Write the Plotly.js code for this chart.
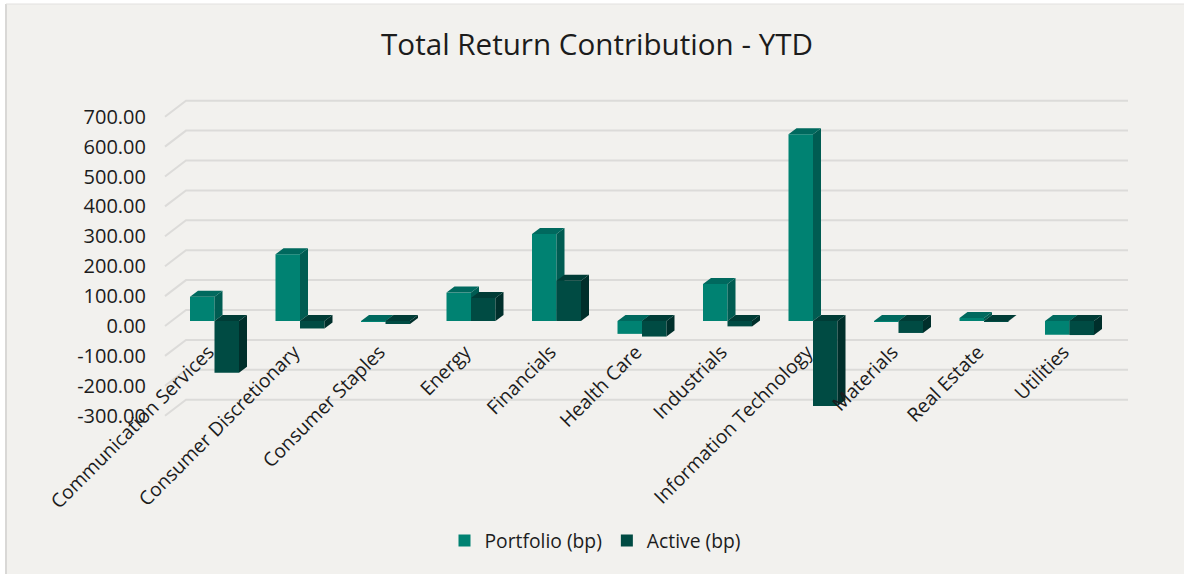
<!DOCTYPE html>
<html>
<head>
<meta charset="utf-8">
<script src="https://cdn.plot.ly/plotly-3.0.1.min.js"></script>
<style>html,body{margin:0;padding:0;background:#fff;overflow:hidden}#chart{width:1184px;height:574px}</style>
</head>
<body>
<div id="chart"></div>
<script>
var categories = ["Communication Services","Consumer Discretionary","Consumer Staples","Energy","Financials","Health Care","Industrials","Information Technology","Materials","Real Estate","Utilities"];
var portfolio = [81,223,-3,95,291,-43,124,625,-1,10,-46];
var active = [-173,-25,-10,77,135,-52,-18,-284,-40,-1,-47];
var yTicks = [700,600,500,400,300,200,100,0,-100,-200,-300];

var FONT = '"Open Sans", sans-serif';
var W = 1184, H = 574;
var L = 150, R = 1140, T = 90, B = 425;
var pxX = 85.5, pxY = 0.299, x0Px = 214.5, zeroPx = 321;
var xRange = [(L - x0Px) / pxX, (R - x0Px) / pxX];
var yRange = [(zeroPx - B) / pxY, (zeroPx - T) / pxY];
var barW = 24.5 / pxX;
var dx = 8 / pxX, dy = 6 / pxY;
function paperX(px) { return (px - L) / (R - L); }
function paperY(px) { return (B - px) / (B - T); }

function faces(values, start) {
  var sx = [], sy = [], tx = [], ty = [];
  values.forEach(function (v, i) {
    var a = i + start, b = a + barW, hi = Math.max(v, 0), lo = Math.min(v, 0);
    sx.push(b, b + dx, b + dx, b, b, null);
    sy.push(hi, hi + dy, lo + dy, lo, hi, null);
    tx.push(a, a + dx, b + dx, b, a, null);
    ty.push(hi, hi + dy, hi + dy, hi, hi, null);
  });
  return {sx: sx, sy: sy, tx: tx, ty: ty};
}
function poly(x, y, color, xa, ya) {
  return {type: 'scatter', mode: 'lines', x: x, y: y, fill: 'toself', fillcolor: color,
    line: {width: 0, color: color}, hoverinfo: 'skip', showlegend: false, xaxis: xa, yaxis: ya};
}

// Back wall grid: short diagonal on the side wall, then the long line
var gx = [], gy = [];
var wallL = (165 - x0Px) / pxX, wallB = (186 - x0Px) / pxX, wallR = (1128 - x0Px) / pxX;
var wallFront = -5 / pxY, wallBack = 11 / pxY;
yTicks.forEach(function (v) {
  gx.push(wallL, wallB, wallR, null);
  gy.push(v + wallFront, v + wallBack, v + wallBack, null);
});

var pf = faces(portfolio, -barW), af = faces(active, 0);
var idx = categories.map(function (c, i) { return i; });
var traces = [
  {type: 'scatter', mode: 'lines', x: gx, y: gy, line: {color: '#dcdbd9', width: 2},
   hoverinfo: 'skip', showlegend: false, xaxis: 'x', yaxis: 'y'},
  poly(pf.sx, pf.sy, '#005c52', 'x2', 'y2'),
  poly(pf.tx, pf.ty, '#00695e', 'x2', 'y2'),
  {type: 'bar', name: 'Portfolio (bp)', x: idx, y: portfolio,
   width: barW, offset: -barW, marker: {color: '#008272', line: {width: 0}}, xaxis: 'x2', yaxis: 'y2'},
  poly(af.sx, af.sy, '#002f2b', 'x3', 'y3'),
  poly(af.tx, af.ty, '#003c36', 'x3', 'y3'),
  {type: 'bar', name: 'Active (bp)', x: idx, y: active,
   width: barW, offset: 0, marker: {color: '#004b43', line: {width: 0}}, xaxis: 'x3', yaxis: 'y3'}
];

function hiddenX() { return {range: xRange, overlaying: 'x', visible: false, fixedrange: true}; }
function hiddenY(xa) { return {range: yRange, overlaying: 'y', visible: false, fixedrange: true, anchor: xa}; }

var layout = {
  width: W, height: H,
  paper_bgcolor: '#ffffff', plot_bgcolor: 'rgba(0,0,0,0)',
  margin: {l: L, r: W - R, t: T, b: H - B, pad: 0},
  font: {family: FONT, color: '#1c1c1c'},
  title: {text: 'Total Return Contribution - YTD', font: {family: FONT, size: 29.6, color: '#1c1c1c'},
          x: 597 / W, xanchor: 'center', y: 1 - 45 / H, yanchor: 'middle'},
  showlegend: true,
  legend: {orientation: 'h', x: paperX(595), xanchor: 'center', y: paperY(541), yanchor: 'middle',
           font: {family: FONT, size: 19.3, color: '#1c1c1c'}, bgcolor: 'rgba(0,0,0,0)', traceorder: 'normal'},
  xaxis: {range: xRange, tickmode: 'array', tickvals: idx, ticktext: categories,
          tickangle: -45, tickfont: {family: FONT, size: 19.3, color: '#1c1c1c'}, showgrid: false, zeroline: false, showline: false,
          ticks: '', anchor: 'free', position: paperY(336), ticklabelshift: -6, fixedrange: true, automargin: false},
  yaxis: {range: yRange, tickmode: 'array', tickvals: yTicks, ticktext: yTicks.map(function (v) { return v.toFixed(2); }),
          tickfont: {family: FONT, size: 20, color: '#1c1c1c'}, showgrid: false, zeroline: false, showline: false,
          ticks: '', ticklabelshift: 5, ticklabelstandoff: 3, fixedrange: true, automargin: false},
  xaxis2: hiddenX(), yaxis2: hiddenY('x2'), xaxis3: hiddenX(), yaxis3: hiddenY('x3'),
  shapes: [
    {type: 'rect', layer: 'below', xref: 'paper', yref: 'paper', x0: paperX(6), x1: paperX(W), y0: paperY(4), y1: paperY(H),
     fillcolor: '#f2f1ee', line: {width: 0}},
    {type: 'line', layer: 'below', xref: 'paper', yref: 'paper', x0: paperX(6), x1: paperX(6), y0: paperY(4), y1: paperY(H),
     line: {color: '#d9d8d6', width: 2}},
    {type: 'line', layer: 'below', xref: 'paper', yref: 'paper', x0: paperX(6), x1: paperX(W), y0: paperY(4), y1: paperY(4),
     line: {color: '#e2e1df', width: 1}}
  ]
};
Plotly.newPlot('chart', traces, layout, {displayModeBar: false, responsive: false});
</script>
</body>
</html>
